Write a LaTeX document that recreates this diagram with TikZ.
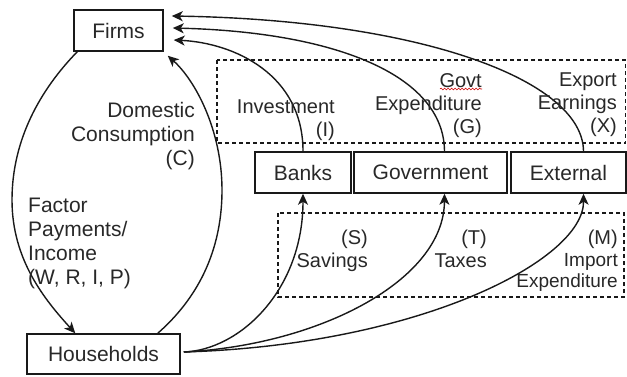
\documentclass[tikz,border=0pt]{standalone}
\usepackage{fontspec}
\setmainfont{Liberation Sans}
\usetikzlibrary{arrows.meta,decorations.pathmorphing}
\definecolor{linec}{RGB}{25,25,25}
\definecolor{textc}{RGB}{40,40,40}
\begin{document}
\begin{tikzpicture}[x=1pt,y=-1pt,
  box/.style={draw=linec, line width=1.5pt, inner sep=0pt, font=\fontsize{21}{24}\selectfont, text=textc},
  flow/.style={draw=linec, line width=1.4pt, -{Stealth[length=11pt,width=10pt,inset=3pt]}},
  dbox/.style={draw=linec, line width=1.2pt, dash pattern=on 4pt off 3pt},
  lab/.style={inner sep=0pt, text=textc, font=\fontsize{20}{23}\selectfont},
  labL/.style={inner sep=0pt, text=textc, font=\fontsize{21}{24}\selectfont},
]
\useasboundingbox (0,0) rectangle (627,376);

% dashed boxes
\draw[dbox] (217,60) rectangle (625.5,143);
\draw[dbox] (278,213) rectangle (624,297);

% boxes
\node[box, minimum width=89pt, minimum height=41pt] (firms) at (118.5,30.5) {Firms};
\node[box, minimum width=153pt, minimum height=40pt] (hh) at (103.5,354) {Households};
\node[box, minimum width=96pt, minimum height=41pt] (banks) at (303,172.5) {Banks};
\node[box, minimum width=153pt, minimum height=41pt] (gov) at (430.5,172.5) {Government};
\node[box, minimum width=115pt, minimum height=41pt] (ext) at (568.5,172.5) {External};

% connection points
\coordinate (fsw) at ([shift={(4,0)}]firms.south west);
\coordinate (fse) at ([shift={(4,4)}]firms.south east);
\coordinate (fI) at ([shift={(10,9.5)}]firms.east);
\coordinate (fG) at ([shift={(9,-2.5)}]firms.east);
\coordinate (fX) at ([shift={(8,-14.5)}]firms.east);
\coordinate (hnw) at ([shift={(49,0)}]hh.north west);
\coordinate (hne) at ([shift={(-23,0)}]hh.north east);
\coordinate (hE) at ([shift={(3,-2)}]hh.east);
\coordinate (gN) at ([shift={(14,0)}]gov.north);
\coordinate (gS) at ([shift={(14,0)}]gov.south);
\coordinate (xN) at ([shift={(15,0)}]ext.north);
\coordinate (xS) at ([shift={(15,0)}]ext.south);

% Firms -> Households
\draw[flow] (fsw) .. controls (40,90) and (12,140) .. (12,200)
                  .. controls (12,260) and (45,300) .. (hnw);
% Households -> Firms (domestic consumption)
\draw[flow] (hne) .. controls (190,305) and (222,260) .. (222,190)
                  .. controls (222,130) and (195,80) .. (fse);
% injections to Firms
\draw[flow] (banks.north) .. controls (303,75) and (235,43) .. (fI);
\draw[flow] (gN) .. controls (444,75) and (335,32) .. (fG);
\draw[flow] (xN) .. controls (583,80) and (420,20) .. (fX);
% leakages from Households
\draw[flow] (hE) .. controls (240,350) and (303,290) .. (banks.south);
\draw[flow] (hE) .. controls (320,345) and (444,280) .. (gS);
\draw[flow] (hE) .. controls (420,345) and (584,260) .. (xS);

% labels
\node[labL, align=right, anchor=north east] (lC) at (195,102) {Domestic\\Consumption\\(C)};
\node[labL, align=left, anchor=north west] (lF) at (28,198) {Factor\\Payments/\\Income\\(W, R, I, P)};
\node[lab, align=right, anchor=north east] (lI) at (335,100) {Investment\\(I)};
\node[lab, align=right, anchor=north east] (lG) at (482,73) {Govt\\Expenditure\\(G)};
\node[lab, align=right, anchor=north east] (lX) at (617,73) {Export\\Earnings\\(X)};
\node[lab, align=right, anchor=north east] (lS) at (368,230) {(S)\\Savings};
\node[lab, align=right, anchor=north east] (lT) at (487,230) {(T)\\Taxes};
\node[lab, align=right, anchor=north east, font=\fontsize{19}{21.5}\selectfont] (lM) at (618,230) {{\fontsize{20}{21.5}\selectfont(M)}\\Import\\Expenditure};

% spell-check squiggle under "Govt"
\draw[red!80!black, line width=0.6pt, decorate, decoration={snake, amplitude=0.9pt, segment length=3.5pt}] (440,89) -- (482,89);
\end{tikzpicture}
\end{document}
